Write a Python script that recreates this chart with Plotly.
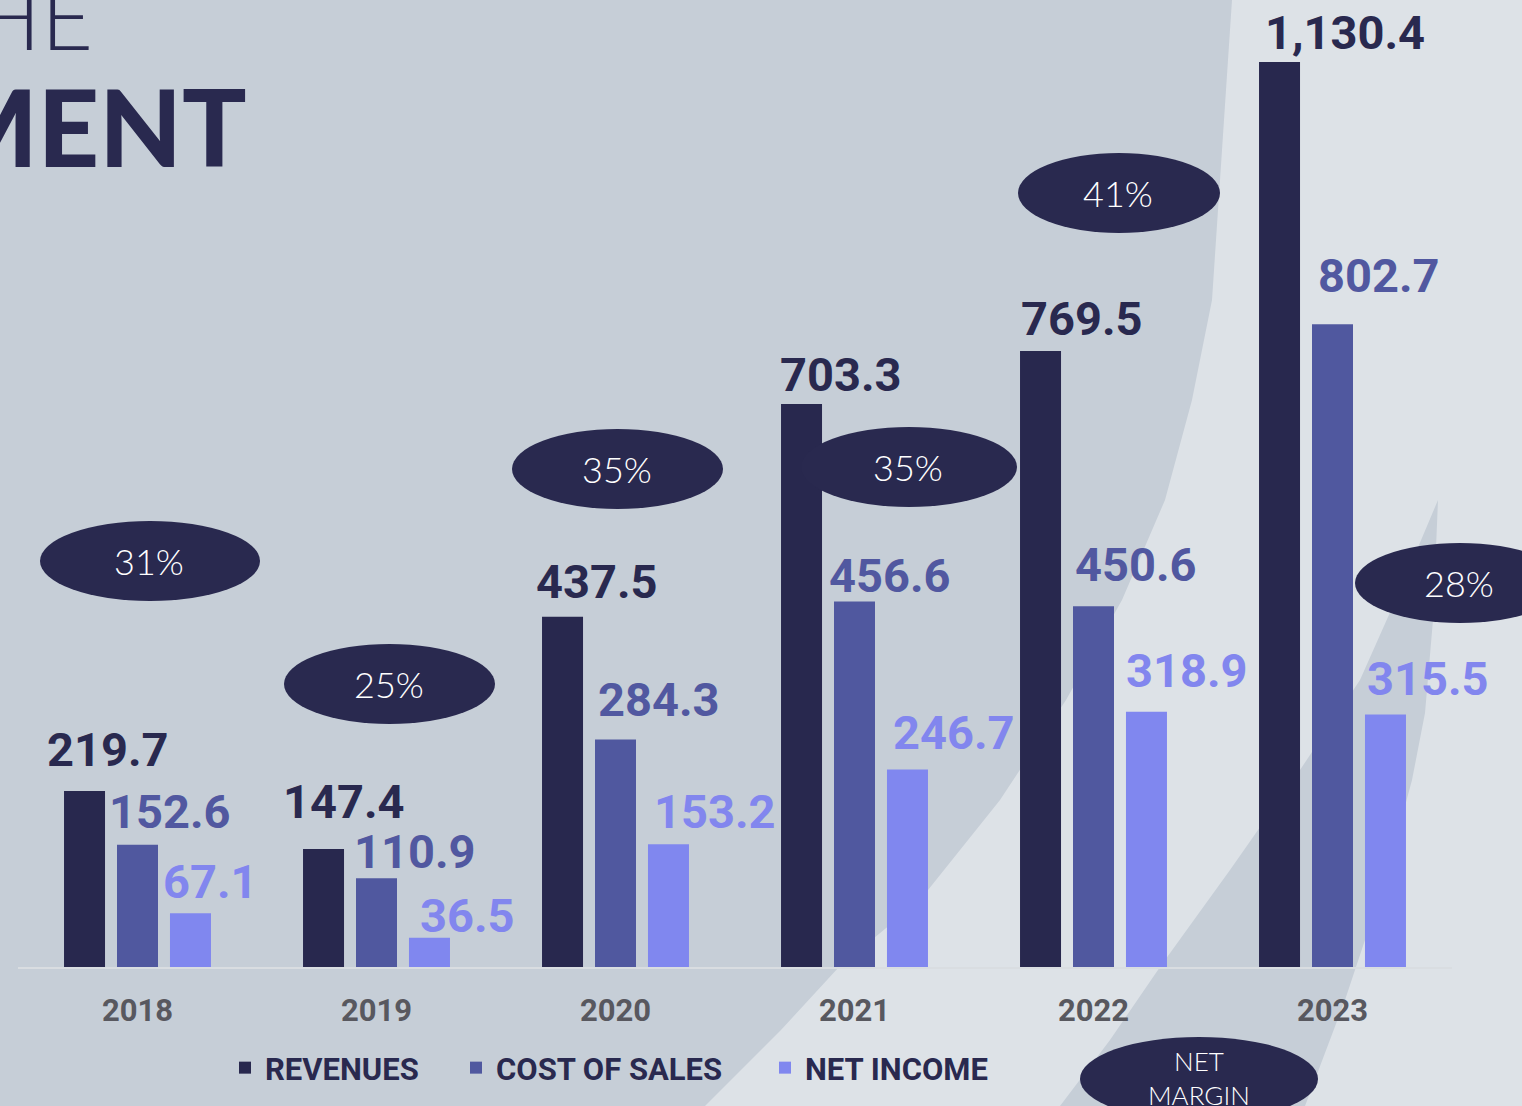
import plotly.graph_objects as go

# ---------------- data ----------------
years = ["2018", "2019", "2020", "2021", "2022", "2023"]
revenues = [219.7, 147.4, 437.5, 703.3, 769.5, 1130.4]
cost_of_sales = [152.6, 110.9, 284.3, 456.6, 450.6, 802.7]
net_income = [67.1, 36.5, 153.2, 246.7, 318.9, 315.5]
net_margin = ["31%", "25%", "35%", "35%", "41%", "28%"]
series_names = ["REVENUES", "COST OF SALES", "NET INCOME"]
title_lines = ["HE", "MENT"]
badge_title = "NET<br>MARGIN"

# ---------------- style ----------------
W, H = 1522, 1106
ML, MR, MT, MB = 18, 70, 0, 139
PW, PH = W - ML - MR, H - MT - MB
BASELINE = H - MB
PX_PER_UNIT = 0.8006

NAVY = "#29294f"
BAR_COLORS = ["#28284e", "#50589f", "#8087ef"]
LABEL_COLORS = ["#29294f", "#5158a0", "#8286ee"]
BG_DARK = "#c6ced7"
BG_LIGHT = "#dde2e7"
VAL_FONT = "Roboto"
GEO_FONT = "Lato"

# per-label nudges (pixels) mimicking the hand-placed labels of the slide
LABEL_DX = [[-16, -19, -5, 0, 2, 7],
            [-7, -1, 4, -4, 3, 7],
            [-6, 12, 7, 7, 1, 3]]
LABEL_DY = [[6, 12, 0, -6, -3, -6],
            [-2, -9, 4, -10, 6, 13],
            [-4, -13, -3, 1, 6, 0]]


def px(x):
    return (x - ML) / PW


def py(y):
    return (BASELINE - y) / PH


fig = go.Figure()
series = [revenues, cost_of_sales, net_income]
legend_ids = ["legend", "legend2", "legend3"]
for k, (name, vals) in enumerate(zip(series_names, series)):
    fig.add_trace(go.Bar(
        x=years, y=vals, name=name,
        marker=dict(color=BAR_COLORS[k], line=dict(width=0)),
        legend=legend_ids[k],
        hoverinfo="skip",
    ))

annotations = []
# value labels, left aligned near each bar's left edge (x as category index)
bar_left = [-73.5, -20.5, 32.5]
for k, vals in enumerate(series):
    for i, v in enumerate(vals):
        annotations.append(dict(
            x=i, y=v, xref="x", yref="y",
            text=f"{v:,.1f}", showarrow=False,
            xanchor="left", yanchor="bottom",
            xshift=bar_left[k] - 2 + LABEL_DX[k][i], yshift=7 + LABEL_DY[k][i], borderpad=0,
            font=dict(family=VAL_FONT, size=47, color=LABEL_COLORS[k], weight=700),
        ))

shapes = []
# background curved panels
light_edge = [(1232, 0), (1222, 150), (1212, 300), (1192, 400), (1165, 500), (1122, 600),
              (1066, 700), (1000, 800), (920, 900), (839, 967), (781, 1030), (705, 1106)]
path = "M " + " L ".join(f"{px(a):.5f},{py(b):.5f}" for a, b in light_edge)
path += f" L {px(W):.5f},{py(H):.5f} L {px(W):.5f},{py(0):.5f} Z"
shapes.append(dict(type="path", path=path, xref="paper", yref="paper",
                   fillcolor=BG_LIGHT, line=dict(width=0), layer="below"))

crescent_left = [(1438, 500), (1400, 590), (1360, 680), (1300, 770), (1230, 870),
                 (1160, 967), (1110, 1040), (1060, 1106)]
crescent_right = [(1305, 1106), (1345, 1000), (1385, 880), (1412, 780), (1425, 713),
                  (1433, 620), (1438, 500)]
path = "M " + " L ".join(f"{px(a):.5f},{py(b):.5f}" for a, b in crescent_left + crescent_right) + " Z"
shapes.append(dict(type="path", path=path, xref="paper", yref="paper",
                   fillcolor=BG_DARK, line=dict(width=0), layer="below"))

# net margin badges (centre x, centre y, rx, ry)
badges = [(150, 561, 110, 40), (389.5, 684, 105.5, 40), (617.5, 469, 105.5, 40),
          (909, 467, 108, 40), (1119, 193, 101, 40), (1460, 583, 105, 40)]
for (cx, cy, rx, ry), txt in zip(badges, net_margin):
    shapes.append(dict(type="circle", xref="paper", yref="paper",
                       x0=px(cx - rx), x1=px(cx + rx), y0=py(cy + ry), y1=py(cy - ry),
                       fillcolor=NAVY, line=dict(width=0), layer="above"))
    annotations.append(dict(x=px(cx - 1), y=py(cy), xref="paper", yref="paper",
                            text=txt, showarrow=False, xanchor="center", yanchor="middle",
                            font=dict(family=GEO_FONT, size=36, color="white", weight=300)))

# NET MARGIN badge
shapes.append(dict(type="circle", xref="paper", yref="paper",
                   x0=px(1080), x1=px(1318), y0=py(1121), y1=py(1037),
                   fillcolor=NAVY, line=dict(width=0), layer="above"))
annotations.append(dict(x=px(1199), y=py(1078), xref="paper", yref="paper",
                        text=badge_title, showarrow=False, xanchor="center", yanchor="middle",
                        font=dict(family=GEO_FONT, size=26, color="white", weight=300)))

# cropped slide title
annotations.append(dict(x=px(94), y=py(70), xref="paper", yref="paper",
                        text=title_lines[0], showarrow=False, xanchor="right", yanchor="bottom",
                        borderpad=0,
                        font=dict(family=GEO_FONT, size=90, color=NAVY, weight=300)))
annotations.append(dict(x=px(248), y=py(191), xref="paper", yref="paper",
                        text=title_lines[1], showarrow=False, xanchor="right", yanchor="bottom",
                        borderpad=0,
                        font=dict(family=GEO_FONT, size=107, color=NAVY, weight=900)))

legend_common = dict(orientation="h", yanchor="middle", xanchor="left",
                     bgcolor="rgba(0,0,0,0)", borderwidth=0,
                     font=dict(family=VAL_FONT, size=31, color=NAVY, weight=700))

fig.update_layout(
    width=W, height=H,
    margin=dict(l=ML, r=MR, t=MT, b=MB, pad=0, autoexpand=False),
    paper_bgcolor=BG_DARK, plot_bgcolor="rgba(0,0,0,0)",
    barmode="group", bargap=0.335, bargroupgap=0.226,
    showlegend=True,
    legend=dict(x=px(225), y=py(1068), **legend_common),
    legend2=dict(x=px(456), y=py(1068), **legend_common),
    legend3=dict(x=px(765), y=py(1068), **legend_common),
    xaxis=dict(type="category", range=[-0.5, len(years) - 0.5], autorange=False,
               showgrid=False, zeroline=False, automargin=False,
               showline=True, linecolor="#d9dde1", linewidth=2,
               ticks="", ticklabelstandoff=15,
               tickfont=dict(family=VAL_FONT, size=31, color="#58585f", weight=700),
               fixedrange=True),
    yaxis=dict(visible=False, range=[0, BASELINE / PX_PER_UNIT], autorange=False,
               automargin=False, fixedrange=True),
    shapes=shapes,
    annotations=annotations,
)

fig.write_html("out.html", config={"displayModeBar": False},
               post_script="document.body.style.margin='0px';")
